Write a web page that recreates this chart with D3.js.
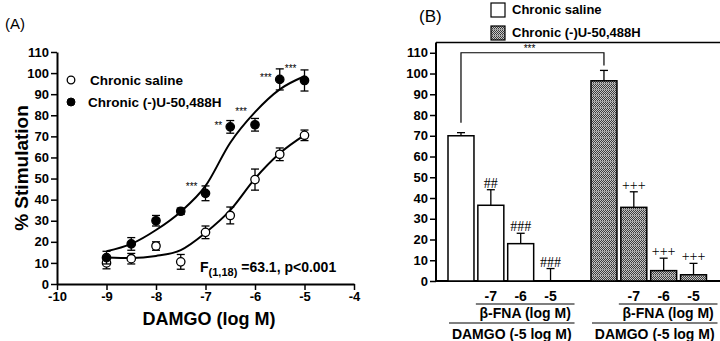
<!DOCTYPE html>
<html>
<head>
<meta charset="utf-8">
<script src="https://cdn.jsdelivr.net/npm/d3@7"></script>
<style>
  body { margin: 0; background: #fff; }
  svg { font-family: "Liberation Sans", Arial, Helvetica, sans-serif; }
  text { fill: #000; }
</style>
</head>
<body>
<div id="chart"></div>
<script>
// panel A: concentration-response data
const doses = [-9, -8.5, -8, -7.5, -7, -6.5, -6, -5.5, -5];
const salineMean = [10, 12, 18, 10.5, 24.5, 32.5, 49.5, 61.5, 70.5];
const salineSem = [2.8, 2.5, 2, 3.5, 3, 4, 5, 3, 2.5];
const u50Mean = [12.5, 19, 30, 34.5, 43, 74.5, 75.5, 97, 96.5];
const u50Sem = [3, 3, 2.5, 1.5, 3.5, 3, 3, 5, 5];
// fitted curves at each dose
const salineFit = [12.6, 12.3, 13.3, 16.1, 24.3, 35, 50, 62, 70.6];
const u50Fit = [15.5, 19, 25.6, 34.3, 46.5, 67, 81.5, 92.3, 98.5];
const starDoses = [-7, -6.5, -6, -5.5, -5];
const starText = ["***", "**", "***", "***", "***"];
const starLevel = [47, 76, 82.5, 98.6, 103];
const xTicksA = [-10, -9, -8, -7, -6, -5, -4];
const yTicks = [0, 10, 20, 30, 40, 50, 60, 70, 80, 90, 100, 110];

// panel B: bars
const groups = ["Chronic saline", "Chronic (-)U-50,488H"];
const fnaDoses = ["none", "-7", "-6", "-5"];
const salineBars = [70, 36.5, 18, 0];
const salineErr = [1.5, 7.5, 5, 6];
const u50Bars = [96.5, 35.5, 5, 3];
const u50Err = [5, 7.5, 6, 5.5];
const salineMarks = ["", "##", "###", "###"];
const u50Marks = ["", "+++", "+++", "+++"];

const svg = d3.select("#chart")
    .append("svg")
    .attr("width", 720)
    .attr("height", 341);

// pattern for the gray bars
const defs = svg.append("defs");
const pat = defs.append("pattern")
    .attr("id", "dots")
    .attr("patternUnits", "userSpaceOnUse")
    .attr("width", 2).attr("height", 6);
pat.append("rect").attr("width", 2).attr("height", 6).attr("fill", "#c8c8c8");
for (let r = 0; r < 5; r++) {
    pat.append("rect").attr("x", r % 2).attr("y", r).attr("width", 1).attr("height", 1).attr("fill", "#3a3a3a");
}
pat.append("rect").attr("x", 0).attr("y", 5).attr("width", 2).attr("height", 1).attr("fill", "#9a9a9a");

// ---------------- panel A ----------------
const xA = d3.scaleLinear().domain([-10, -4]).range([57, 354]);
const yA = d3.scaleLinear().domain([0, 110]).range([284, 52]);

const gA = svg.append("g");

gA.append("text").attr("x", 5).attr("y", 29).attr("font-size", 15).text("(A)");

const axA = gA.append("g").attr("transform", "translate(0,284)")
    .call(d3.axisBottom(xA).tickValues(xTicksA).tickSize(6).tickSizeOuter(0).tickFormat(d => String(d)));
const ayA = gA.append("g").attr("transform", "translate(57,0)")
    .call(d3.axisLeft(yA).tickValues(yTicks).tickSize(6).tickSizeOuter(0));
[axA, ayA].forEach(a => {
    a.selectAll("path").attr("stroke-width", 2);
    a.selectAll("line").attr("stroke-width", 1.5);
    a.selectAll("text").attr("font-size", 13).attr("font-weight", "bold")
        .attr("font-family", "Liberation Sans, Arial, sans-serif").attr("fill", "#000");
});
axA.selectAll("text").attr("y", 8);
ayA.selectAll("text").attr("x", -8);

gA.append("text")
    .attr("transform", "translate(28,168) rotate(-90)")
    .attr("text-anchor", "middle")
    .attr("font-size", 19).attr("font-weight", "bold")
    .text("% Stimulation");
gA.append("text")
    .attr("x", 209).attr("y", 325)
    .attr("text-anchor", "middle")
    .attr("font-size", 18).attr("font-weight", "bold")
    .text("DAMGO (log M)");

const line = d3.line()
    .x((d, i) => xA(doses[i]))
    .y(d => yA(d))
    .curve(d3.curveMonotoneX);

gA.append("path").datum(salineFit).attr("d", line)
    .attr("fill", "none").attr("stroke", "#000").attr("stroke-width", 2);
gA.append("path").datum(u50Fit).attr("d", line)
    .attr("fill", "none").attr("stroke", "#000").attr("stroke-width", 2);

function drawSeries(means, sems, fill) {
    const g = gA.append("g");
    means.forEach((m, i) => {
        const cx = xA(doses[i]);
        const t = yA(m + sems[i]), b = yA(m - sems[i]);
        g.append("line").attr("x1", cx).attr("x2", cx).attr("y1", t).attr("y2", b)
            .attr("stroke", "#000").attr("stroke-width", 1.3);
        [t, b].forEach(yy => g.append("line").attr("x1", cx - 4).attr("x2", cx + 4)
            .attr("y1", yy).attr("y2", yy).attr("stroke", "#000").attr("stroke-width", 1.3));
        g.append("circle").attr("cx", cx).attr("cy", yA(m)).attr("r", 4.2)
            .attr("fill", fill).attr("stroke", "#000").attr("stroke-width", 1.3);
    });
}
drawSeries(salineMean, salineSem, "#fff");
drawSeries(u50Mean, u50Sem, "#000");

starDoses.forEach((d, i) => {
    gA.append("text")
        .attr("x", xA(d) - 8).attr("y", yA(starLevel[i]) + 5)
        .attr("text-anchor", "end")
        .attr("font-size", 10)
        .text(starText[i]);
});

// legend A
gA.append("circle").attr("cx", 71).attr("cy", 80).attr("r", 3.8)
    .attr("fill", "#fff").attr("stroke", "#000").attr("stroke-width", 1.3);
gA.append("circle").attr("cx", 71).attr("cy", 102).attr("r", 4)
    .attr("fill", "#000").attr("stroke", "#000");
gA.append("text").attr("x", 90).attr("y", 85).attr("font-size", 13.5).attr("font-weight", "bold").text("Chronic saline");
gA.append("text").attr("x", 88).attr("y", 107).attr("font-size", 13.5).attr("font-weight", "bold").text("Chronic (-)U-50,488H");

// F statistic
const fText = gA.append("text").attr("x", 200).attr("y", 272).attr("font-size", 14).attr("font-weight", "bold");
fText.append("tspan").text("F");
fText.append("tspan").attr("font-size", 11).attr("dy", 4).text("(1,18)");
fText.append("tspan").attr("dy", -4).text(" =63.1, p<0.001");

// ---------------- panel B ----------------
const yB = d3.scaleLinear().domain([0, 115]).range([281, 42.4]);
const xGroup = d3.scaleBand().domain(groups).range([448, 706.5]).paddingInner(0.192).paddingOuter(0);
const xBar = d3.scaleBand().domain(fnaDoses).range([0, xGroup.bandwidth()]).paddingInner(0.13).paddingOuter(0);

const gB = svg.append("g");
gB.append("text").attr("x", 419).attr("y", 22).attr("font-size", 17).text("(B)");

// frame
gB.append("line").attr("x1", 436).attr("x2", 720).attr("y1", yB(115)).attr("y2", yB(115))
    .attr("stroke", "#000").attr("stroke-width", 1.5);
gB.append("line").attr("x1", 436).attr("x2", 720).attr("y1", yB(0)).attr("y2", yB(0))
    .attr("stroke", "#000").attr("stroke-width", 2);

const ayB = gB.append("g").attr("transform", "translate(436,0)")
    .call(d3.axisLeft(yB).tickValues(yTicks).tickSize(6).tickSizeOuter(0));
ayB.select("path").attr("d", `M0,${yB(0)}V${yB(115)}`).attr("stroke-width", 2);
ayB.selectAll("line").attr("stroke-width", 1.5);
ayB.selectAll("text").attr("font-size", 13).attr("font-weight", "bold")
    .attr("font-family", "Liberation Sans, Arial, sans-serif").attr("x", -8);

const barSets = [
    { group: groups[0], vals: salineBars, errs: salineErr, marks: salineMarks, fill: "#fff" },
    { group: groups[1], vals: u50Bars, errs: u50Err, marks: u50Marks, fill: "url(#dots)" }
];

barSets.forEach(s => {
    const g = gB.append("g").attr("transform", `translate(${xGroup(s.group)},0)`);
    fnaDoses.forEach((d, i) => {
        const x0 = xBar(d), w = xBar.bandwidth(), cx = x0 + w / 2;
        const top = yB(s.vals[i] + s.errs[i]);
        g.append("line").attr("x1", cx).attr("x2", cx).attr("y1", yB(s.vals[i])).attr("y2", top)
            .attr("stroke", "#000").attr("stroke-width", 1.3);
        g.append("line").attr("x1", cx - 4).attr("x2", cx + 4).attr("y1", top).attr("y2", top)
            .attr("stroke", "#000").attr("stroke-width", 1.3);
        g.append("rect").attr("x", x0).attr("y", yB(s.vals[i]))
            .attr("width", w).attr("height", yB(0) - yB(s.vals[i]))
            .attr("fill", s.fill).attr("stroke", "#000").attr("stroke-width", 1.5);
        if (s.marks[i]) {
            g.append("text").attr("x", cx).attr("y", top - 2)
                .attr("text-anchor", "middle")
                .attr("font-family", "Liberation Serif, Times New Roman, serif")
                .attr("font-size", 14)
                .text(s.marks[i]);
        }
        if (i > 0) {
            g.append("text").attr("x", cx).attr("y", 301)
                .attr("text-anchor", "middle").attr("font-size", 14).attr("font-weight", "bold")
                .text(d);
        }
    });
    const l1 = xBar(fnaDoses[1]) - 2, r1 = xBar(fnaDoses[3]) + xBar.bandwidth() + 11;
    g.append("line").attr("x1", l1).attr("x2", r1).attr("y1", 304).attr("y2", 304)
        .attr("stroke", "#000").attr("stroke-width", 1.2);
    g.append("text").attr("x", (l1 + r1) / 2).attr("y", 318)
        .attr("text-anchor", "middle").attr("font-size", 14).attr("font-weight", "bold")
        .text("\u03b2-FNA (log M)");
    const l2 = xBar(fnaDoses[0]) + 1, r2 = r1;
    g.append("line").attr("x1", l2).attr("x2", r2).attr("y1", 323).attr("y2", 323)
        .attr("stroke", "#000").attr("stroke-width", 1.2);
    g.append("text").attr("x", (l2 + r2) / 2).attr("y", 339)
        .attr("text-anchor", "middle").attr("font-size", 14).attr("font-weight", "bold")
        .text("DAMGO (-5 log M)");
});

// significance bracket
const bx1 = xGroup(groups[0]) + xBar(fnaDoses[0]) + xBar.bandwidth() / 2;
const bx2 = xGroup(groups[1]) + xBar(fnaDoses[0]) + xBar.bandwidth() / 2;
const by = yB(110);
gB.append("path")
    .attr("d", `M${bx1},${yB(salineBars[0] + salineErr[0]) - 10}V${by}H${bx2}V${yB(u50Bars[0] + u50Err[0]) - 5}`)
    .attr("fill", "none").attr("stroke", "#000").attr("stroke-width", 1.2);
gB.append("text").attr("x", (bx1 + bx2) / 2 - 3).attr("y", by - 1)
    .attr("text-anchor", "middle").attr("font-size", 10).text("***");

// legend B
gB.append("rect").attr("x", 491).attr("y", 3).attr("width", 14).attr("height", 14)
    .attr("fill", "#fff").attr("stroke", "#000").attr("stroke-width", 1.2);
gB.append("rect").attr("x", 491).attr("y", 26).attr("width", 14).attr("height", 14)
    .attr("fill", "url(#dots)").attr("stroke", "#000").attr("stroke-width", 1.2);
gB.append("text").attr("x", 512).attr("y", 14).attr("font-size", 13).attr("font-weight", "bold").text(groups[0]);
gB.append("text").attr("x", 512).attr("y", 37).attr("font-size", 13).attr("font-weight", "bold").text(groups[1]);
</script>
</body>
</html>
